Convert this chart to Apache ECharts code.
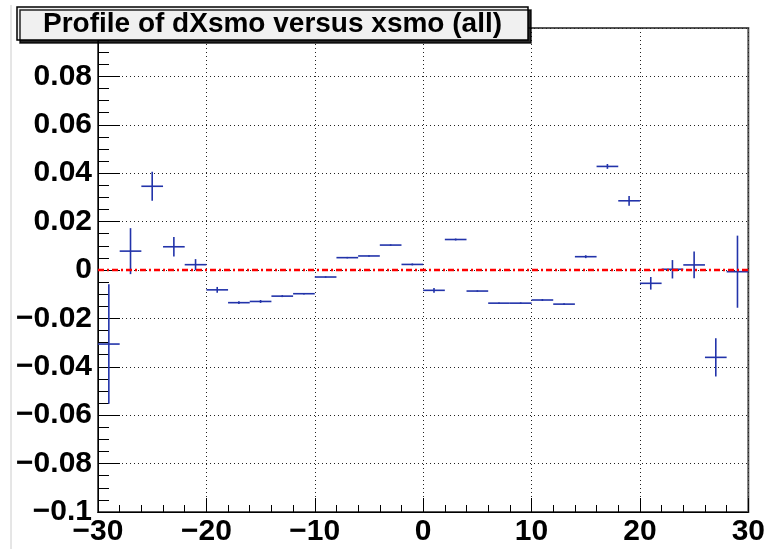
<!DOCTYPE html>
<html>
<head>
<meta charset="utf-8">
<script src="https://cdn.jsdelivr.net/npm/echarts@6/dist/echarts.min.js"></script>
<style>
html,body{margin:0;padding:0;background:#fff;}
#chart{width:768px;height:549px;}
</style>
</head>
<body>
<div id="chart"></div>
<script>
// ---- data ----
var titleText = 'Profile of dXsmo versus xsmo (all)';
var binCenters = [-29,-27,-25,-23,-21,-19,-17,-15,-13,-11,-9,-7,-5,-3,-1,1,3,5,7,9,11,13,15,17,19,21,23,25,27,29];
var binHalfWidth = [1,1,1,1,1,1,1,1,1,1,1,1,1,1,1,1,1,1,1,1,1,1,1,1,1,1,1,1,1,1];
var profileMeans = [-0.0306,0.0078,0.0346,0.0096,0.0022,-0.0082,-0.0135,-0.0130,-0.0108,-0.0098,-0.0029,0.0051,0.0058,0.0103,0.0023,-0.0084,0.0126,-0.0087,-0.0137,-0.0137,-0.0124,-0.0141,0.0055,0.0428,0.0286,-0.0055,0.0003,0.0021,-0.0361,-0.0007];
var profileErrors = [0.0247,0.0095,0.0060,0.0040,0.0023,0.0012,0.0006,0.0006,0.0004,0.0003,0.0003,0.0003,0.0003,0.0003,0.0004,0.0010,0.0004,0.0003,0.0003,0.0003,0.0004,0.0004,0.0006,0.0010,0.0020,0.0026,0.0038,0.0055,0.0079,0.0149];
var zeroLine = [[-30,0],[30,0]];
var xRange = [-30, 30], xStep = 10;
var yRange = [-0.1, 0.1], yStep = 0.02;

var FONT = '"Liberation Sans", Arial, Helvetica, sans-serif';
function fmtNum(v){
  var r = Math.round(v*1000)/1000;
  if (Math.abs(r) < 1e-9) return '0';
  var s = String(Math.abs(r));
  return (r < 0 ? '\u2212' : '') + s;
}

var profileData = binCenters.map(function(c,i){
  return [c, profileMeans[i], profileErrors[i], binHalfWidth[i]];
});

var chart = echarts.init(document.getElementById('chart'), null, {renderer:'canvas'});
chart.setOption({
  animation: false,
  backgroundColor: '#ffffff',
  title: {
    text: titleText,
    left: 17, top: 7,
    padding: [3, 26, 2, 26],
    backgroundColor: '#f0f0f0',
    borderColor: '#000',
    borderWidth: 1.5,
    shadowColor: 'rgba(0,0,0,0.85)',
    shadowBlur: 0,
    shadowOffsetX: 3,
    shadowOffsetY: 3,
    textStyle: {fontFamily: FONT, fontWeight: 'bold', fontSize: 28, lineHeight: 28, color: '#000'}
  },
  graphic: [{
    type: 'line', z: -1,
    shape: {x1: 11, y1: 5, x2: 11, y2: 549},
    style: {stroke: '#cccccc', lineWidth: 1}
  }],
  grid: {left: 98, right: 15, top: 28, bottom: 37, show: true, borderColor: '#555', borderWidth: 2, backgroundColor: 'transparent'},
  xAxis: {
    type: 'value', min: xRange[0], max: xRange[1], interval: xStep,
    axisLine: {show: true, onZero: false, lineStyle: {color: '#000', width: 1}},
    axisTick: {show: true, inside: true, length: 14, lineStyle: {color: '#000'}},
    minorTick: {show: true, splitNumber: 5, length: 7, lineStyle: {color: '#000'}},
    splitLine: {show: true, lineStyle: {color: '#222', width: 1, type: [1, 3]}},
    axisLabel: {fontFamily: FONT, fontWeight: 'bold', fontSize: 30, color: '#000', margin: 5, formatter: fmtNum}
  },
  yAxis: {
    type: 'value', min: yRange[0], max: yRange[1], interval: yStep,
    axisLine: {show: true, onZero: false, lineStyle: {color: '#000', width: 1}},
    axisTick: {show: true, inside: true, length: 22, lineStyle: {color: '#000'}},
    minorTick: {show: true, splitNumber: 4, length: 11, lineStyle: {color: '#000'}},
    splitLine: {show: true, lineStyle: {color: '#222', width: 1, type: [1, 3]}},
    axisLabel: {fontFamily: FONT, fontWeight: 'bold', fontSize: 30, color: '#000', margin: 6,
      formatter: function(v){ return Math.abs(v - yRange[1]) < 1e-9 ? '' : fmtNum(v); }}
  },
  series: [{
    type: 'custom',
    data: profileData,
    z: 3,
    renderItem: function(params, api){
      var x = api.value(0), y = api.value(1), e = api.value(2), hw = api.value(3);
      var pL = api.coord([x - hw, y]), pR = api.coord([x + hw, y]);
      var pT = api.coord([x, y + e]), pB = api.coord([x, y - e]);
      var st = {stroke: '#2233aa', lineWidth: 1.6};
      return {type: 'group', children: [
        {type: 'line', shape: {x1: pL[0], y1: pL[1], x2: pR[0], y2: pR[1]}, style: st},
        {type: 'line', shape: {x1: pT[0], y1: pT[1], x2: pB[0], y2: pB[1]}, style: st}
      ]};
    }
  }, {
    type: 'line',
    data: zeroLine,
    symbol: 'none',
    z: 4,
    lineStyle: {color: '#ff0000', width: 2.5, type: [6, 3, 2, 3]}
  }]
});
</script>
</body>
</html>
